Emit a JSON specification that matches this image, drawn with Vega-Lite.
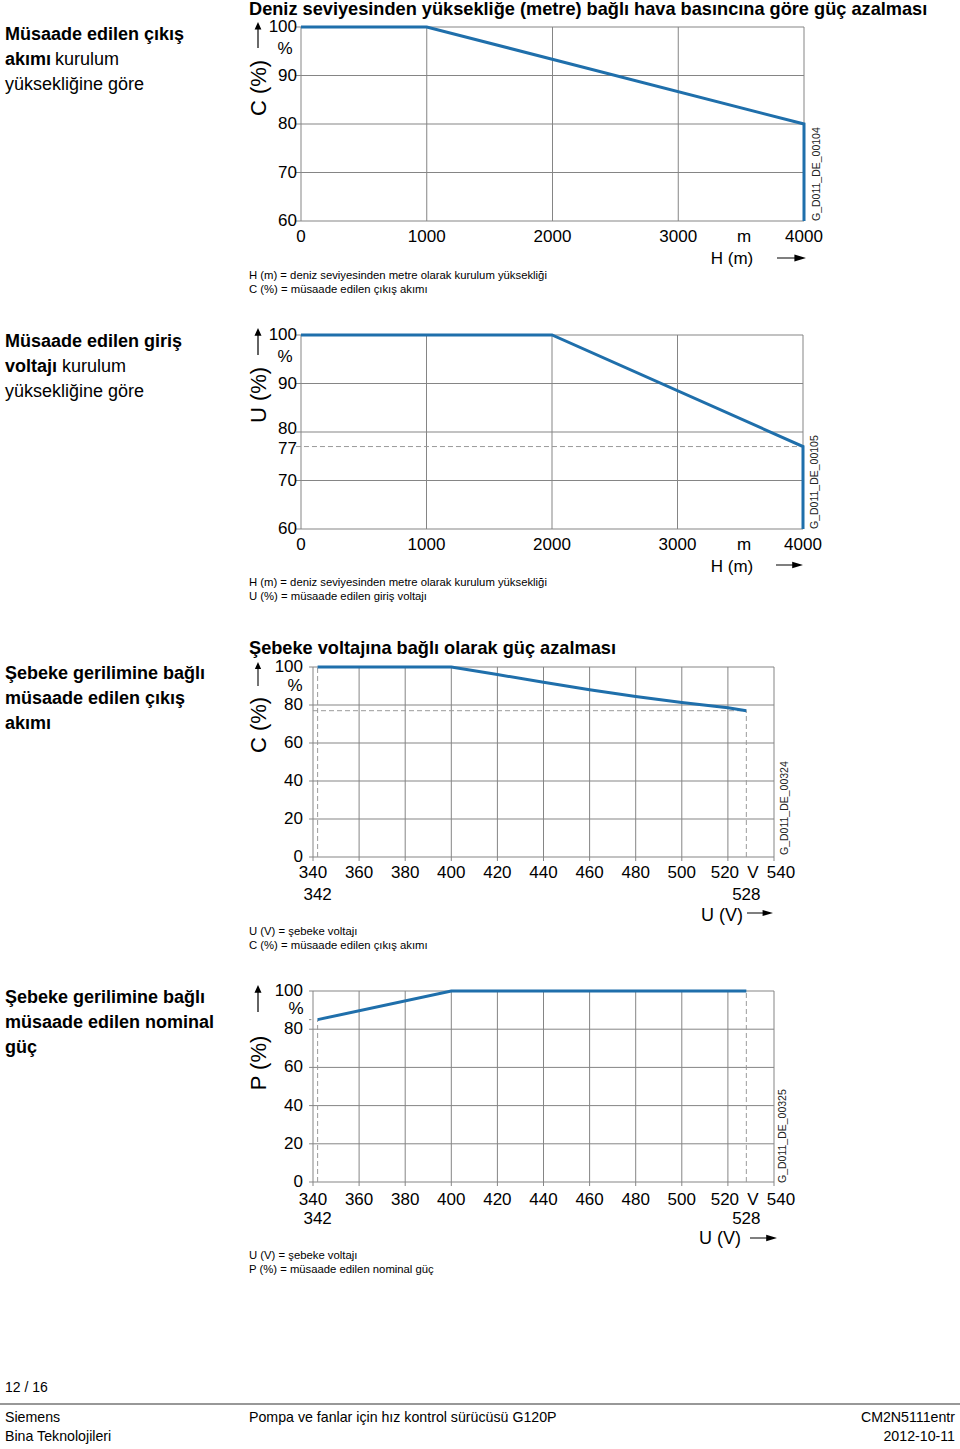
{
 "$schema": "https://vega.github.io/schema/vega-lite/v6.json",
 "width": 960, "height": 1449, "padding": 0, "autosize": {"type": "none"},
 "background": "white",
 "config": {
  "view": {"stroke": null},
  "font": "Liberation Sans",
  "axis": {"disable": true}
 },
 "resolve": {"scale": {"x": "independent", "y": "independent"}},
 "layer": [
  {
   "layer": [
    {"data": {"values": [{"h": 0}, {"h": 1000}, {"h": 2000}, {"h": 3000}, {"h": 4000}]},
     "mark": {"type": "rule", "color": "#858585", "strokeWidth": 1},
     "encoding": {
      "x": {"field": "h", "type": "quantitative", "scale": {"domain": [0, 4000], "range": [301, 804], "nice": false, "zero": false}, "axis": null},
      "y": {"datum": 60, "type": "quantitative", "scale": {"domain": [60, 100], "range": [221, 27], "nice": false, "zero": false}, "axis": null},
      "y2": {"datum": 100}
     }},
    {"data": {"values": [{"c": 60}, {"c": 70}, {"c": 80}, {"c": 90}, {"c": 100}]},
     "mark": {"type": "rule", "color": "#858585", "strokeWidth": 1},
     "encoding": {"y": {"field": "c", "type": "quantitative", "axis": null}, "x": {"datum": -40, "type": "quantitative", "axis": null}, "x2": {"datum": 4000}}},
    {"data": {"values": [{"i": 1, "h": 0, "c": 100}, {"i": 2, "h": 1000, "c": 100}, {"i": 3, "h": 4000, "c": 80}, {"i": 4, "h": 4000, "c": 60}]},
     "mark": {"type": "line", "color": "#1f6fab", "strokeWidth": 3},
     "encoding": {"x": {"field": "h", "type": "quantitative", "axis": null}, "y": {"field": "c", "type": "quantitative", "axis": null}, "order": {"field": "i"}}},
    {"data": {"values": [{"h": 0}, {"h": 1000}, {"h": 2000}, {"h": 3000}, {"h": 4000}]},
     "mark": {"type": "text", "fontSize": 17, "align": "center", "baseline": "middle", "dy": 16, "color": "#000"},
     "encoding": {"x": {"field": "h", "type": "quantitative", "axis": null}, "y": {"datum": 60, "type": "quantitative", "axis": null}, "text": {"field": "h", "type": "quantitative", "format": "d"}}},
    {"data": {"values": [{"c": 60}, {"c": 70}, {"c": 80}, {"c": 90}, {"c": 100}]},
     "mark": {"type": "text", "fontSize": 17, "align": "right", "baseline": "middle", "dx": -4, "color": "#000"},
     "encoding": {"y": {"field": "c", "type": "quantitative", "axis": null}, "x": {"datum": 0, "type": "quantitative", "axis": null}, "text": {"field": "c", "type": "quantitative", "format": "d"}}}
   ]
  },
  {
   "layer": [
    {"data": {"values": [{"h": 0}, {"h": 1000}, {"h": 2000}, {"h": 3000}, {"h": 4000}]},
     "mark": {"type": "rule", "color": "#858585", "strokeWidth": 1},
     "encoding": {
      "x": {"field": "h", "type": "quantitative", "scale": {"domain": [0, 4000], "range": [301, 803], "nice": false, "zero": false}, "axis": null},
      "y": {"datum": 60, "type": "quantitative", "scale": {"domain": [60, 100], "range": [529, 335], "nice": false, "zero": false}, "axis": null},
      "y2": {"datum": 100}
     }},
    {"data": {"values": [{"c": 60}, {"c": 70}, {"c": 80}, {"c": 90}, {"c": 100}]},
     "mark": {"type": "rule", "color": "#858585", "strokeWidth": 1},
     "encoding": {"y": {"field": "c", "type": "quantitative", "axis": null}, "x": {"datum": -40, "type": "quantitative", "axis": null}, "x2": {"datum": 4000}}},
    {"data": {"values": [{"c": 77}]},
     "mark": {"type": "rule", "color": "#9a9a9a", "strokeWidth": 1, "strokeDash": [5, 3]},
     "encoding": {"y": {"field": "c", "type": "quantitative", "axis": null}, "x": {"datum": -40, "type": "quantitative", "axis": null}, "x2": {"datum": 4000}}},
    {"data": {"values": [{"i": 1, "h": 0, "c": 100}, {"i": 2, "h": 2000, "c": 100}, {"i": 3, "h": 4000, "c": 77}, {"i": 4, "h": 4000, "c": 60}]},
     "mark": {"type": "line", "color": "#1f6fab", "strokeWidth": 3},
     "encoding": {"x": {"field": "h", "type": "quantitative", "axis": null}, "y": {"field": "c", "type": "quantitative", "axis": null}, "order": {"field": "i"}}},
    {"data": {"values": [{"h": 0}, {"h": 1000}, {"h": 2000}, {"h": 3000}, {"h": 4000}]},
     "mark": {"type": "text", "fontSize": 17, "align": "center", "baseline": "middle", "dy": 16, "color": "#000"},
     "encoding": {"x": {"field": "h", "type": "quantitative", "axis": null}, "y": {"datum": 60, "type": "quantitative", "axis": null}, "text": {"field": "h", "type": "quantitative", "format": "d"}}},
    {"data": {"values": [{"c": 60}, {"c": 70}, {"c": 90}, {"c": 100}]},
     "mark": {"type": "text", "fontSize": 17, "align": "right", "baseline": "middle", "dx": -4, "color": "#000"},
     "encoding": {"y": {"field": "c", "type": "quantitative", "axis": null}, "x": {"datum": 0, "type": "quantitative", "axis": null}, "text": {"field": "c", "type": "quantitative", "format": "d"}}},
    {"data": {"values": [{"c": 80}]},
     "mark": {"type": "text", "fontSize": 17, "align": "right", "baseline": "middle", "dx": -4, "dy": -3, "color": "#000"},
     "encoding": {"y": {"field": "c", "type": "quantitative", "axis": null}, "x": {"datum": 0, "type": "quantitative", "axis": null}, "text": {"field": "c", "type": "quantitative", "format": "d"}}},
    {"data": {"values": [{"c": 77}]},
     "mark": {"type": "text", "fontSize": 17, "align": "right", "baseline": "middle", "dx": -4, "dy": 2, "color": "#000"},
     "encoding": {"y": {"field": "c", "type": "quantitative", "axis": null}, "x": {"datum": 0, "type": "quantitative", "axis": null}, "text": {"field": "c", "type": "quantitative", "format": "d"}}}
   ]
  },
  {
   "layer": [
    {"data": {"values": [{"u": 340}, {"u": 360}, {"u": 380}, {"u": 400}, {"u": 420}, {"u": 440}, {"u": 460}, {"u": 480}, {"u": 500}, {"u": 520}, {"u": 540}]},
     "mark": {"type": "rule", "color": "#858585", "strokeWidth": 1},
     "encoding": {
      "x": {"field": "u", "type": "quantitative", "scale": {"domain": [340, 540], "range": [313, 774], "nice": false, "zero": false}, "axis": null},
      "y": {"datum": -2.1, "type": "quantitative", "scale": {"domain": [0, 100], "range": [857, 667], "nice": false, "zero": false}, "axis": null},
      "y2": {"datum": 100}
     }},
    {"data": {"values": [{"c": 0}, {"c": 20}, {"c": 40}, {"c": 60}, {"c": 80}, {"c": 100}]},
     "mark": {"type": "rule", "color": "#858585", "strokeWidth": 1},
     "encoding": {"y": {"field": "c", "type": "quantitative", "axis": null}, "x": {"datum": 338.3, "type": "quantitative", "axis": null}, "x2": {"datum": 540}}},
    {"data": {"values": [{"u": 342, "c0": 0, "c1": 100}, {"u": 528, "c0": 0, "c1": 77}]},
     "mark": {"type": "rule", "color": "#9a9a9a", "strokeWidth": 1, "strokeDash": [5, 3]},
     "encoding": {"x": {"field": "u", "type": "quantitative", "axis": null}, "y": {"field": "c0", "type": "quantitative", "axis": null}, "y2": {"field": "c1"}}},
    {"data": {"values": [{"c": 77, "u0": 340, "u1": 528}]},
     "mark": {"type": "rule", "color": "#9a9a9a", "strokeWidth": 1, "strokeDash": [5, 3]},
     "encoding": {"y": {"field": "c", "type": "quantitative", "axis": null}, "x": {"field": "u0", "type": "quantitative", "axis": null}, "x2": {"field": "u1"}}},
    {"data": {"values": [{"u": 342, "c": 100}, {"u": 400, "c": 100}, {"u": 420, "c": 96}, {"u": 440, "c": 92}, {"u": 460, "c": 88}, {"u": 480, "c": 84.5}, {"u": 500, "c": 81.3}, {"u": 520, "c": 78.5}, {"u": 528, "c": 77}]},
     "mark": {"type": "line", "color": "#1f6fab", "strokeWidth": 3},
     "encoding": {"x": {"field": "u", "type": "quantitative", "axis": null}, "y": {"field": "c", "type": "quantitative", "axis": null}}},
    {"data": {"values": [{"u": 340}, {"u": 360}, {"u": 380}, {"u": 400}, {"u": 420}, {"u": 440}, {"u": 460}, {"u": 480}, {"u": 500}]},
     "mark": {"type": "text", "fontSize": 17, "align": "center", "baseline": "middle", "dy": 16, "color": "#000"},
     "encoding": {"x": {"field": "u", "type": "quantitative", "axis": null}, "y": {"datum": 0, "type": "quantitative", "axis": null}, "text": {"field": "u", "type": "quantitative", "format": "d"}}},
    {"data": {"values": [{"u": 520}]},
     "mark": {"type": "text", "fontSize": 17, "align": "center", "baseline": "middle", "dy": 16, "dx": -3, "color": "#000"},
     "encoding": {"x": {"field": "u", "type": "quantitative", "axis": null}, "y": {"datum": 0, "type": "quantitative", "axis": null}, "text": {"field": "u", "type": "quantitative", "format": "d"}}},
    {"data": {"values": [{"u": 540}]},
     "mark": {"type": "text", "fontSize": 17, "align": "center", "baseline": "middle", "dy": 16, "dx": 7, "color": "#000"},
     "encoding": {"x": {"field": "u", "type": "quantitative", "axis": null}, "y": {"datum": 0, "type": "quantitative", "axis": null}, "text": {"field": "u", "type": "quantitative", "format": "d"}}},
    {"data": {"values": [{"c": 0}, {"c": 20}, {"c": 40}, {"c": 60}, {"c": 80}, {"c": 100}]},
     "mark": {"type": "text", "fontSize": 17, "align": "right", "baseline": "middle", "dx": -10, "color": "#000"},
     "encoding": {"y": {"field": "c", "type": "quantitative", "axis": null}, "x": {"datum": 340, "type": "quantitative", "axis": null}, "text": {"field": "c", "type": "quantitative", "format": "d"}}},
    {"data": {"values": [{"u": 342, "t": "342"}, {"u": 528, "t": "528"}]},
     "mark": {"type": "text", "fontSize": 17, "dy": 38, "baseline": "middle", "align": "center", "color": "#000"},
     "encoding": {"x": {"field": "u", "type": "quantitative", "axis": null}, "y": {"datum": 0, "type": "quantitative", "axis": null}, "text": {"field": "t"}}}
   ]
  },
  {
   "layer": [
    {"data": {"values": [{"u": 340}, {"u": 360}, {"u": 380}, {"u": 400}, {"u": 420}, {"u": 440}, {"u": 460}, {"u": 480}, {"u": 500}, {"u": 520}, {"u": 540}]},
     "mark": {"type": "rule", "color": "#858585", "strokeWidth": 1},
     "encoding": {
      "x": {"field": "u", "type": "quantitative", "scale": {"domain": [340, 540], "range": [313, 774], "nice": false, "zero": false}, "axis": null},
      "y": {"datum": -2.1, "type": "quantitative", "scale": {"domain": [0, 100], "range": [1182, 991], "nice": false, "zero": false}, "axis": null},
      "y2": {"datum": 100}
     }},
    {"data": {"values": [{"c": 0}, {"c": 20}, {"c": 40}, {"c": 60}, {"c": 80}, {"c": 100}]},
     "mark": {"type": "rule", "color": "#858585", "strokeWidth": 1},
     "encoding": {"y": {"field": "c", "type": "quantitative", "axis": null}, "x": {"datum": 338.3, "type": "quantitative", "axis": null}, "x2": {"datum": 540}}},
    {"data": {"values": [{"c": 85}]},
     "mark": {"type": "rule", "color": "#858585", "strokeWidth": 1},
     "encoding": {"y": {"field": "c", "type": "quantitative", "axis": null}, "x": {"datum": 338.3, "type": "quantitative", "axis": null}, "x2": {"datum": 339.3}}},
    {"data": {"values": [{"u": 342, "c0": 0, "c1": 85}, {"u": 528, "c0": 0, "c1": 100}]},
     "mark": {"type": "rule", "color": "#9a9a9a", "strokeWidth": 1, "strokeDash": [5, 3]},
     "encoding": {"x": {"field": "u", "type": "quantitative", "axis": null}, "y": {"field": "c0", "type": "quantitative", "axis": null}, "y2": {"field": "c1"}}},
    {"data": {"values": [{"u": 342, "p": 85}, {"u": 400, "p": 100}, {"u": 528, "p": 100}]},
     "mark": {"type": "line", "color": "#1f6fab", "strokeWidth": 3},
     "encoding": {"x": {"field": "u", "type": "quantitative", "axis": null}, "y": {"field": "p", "type": "quantitative", "axis": null}}},
    {"data": {"values": [{"u": 340}, {"u": 360}, {"u": 380}, {"u": 400}, {"u": 420}, {"u": 440}, {"u": 460}, {"u": 480}, {"u": 500}]},
     "mark": {"type": "text", "fontSize": 17, "align": "center", "baseline": "middle", "dy": 18, "color": "#000"},
     "encoding": {"x": {"field": "u", "type": "quantitative", "axis": null}, "y": {"datum": 0, "type": "quantitative", "axis": null}, "text": {"field": "u", "type": "quantitative", "format": "d"}}},
    {"data": {"values": [{"u": 520}]},
     "mark": {"type": "text", "fontSize": 17, "align": "center", "baseline": "middle", "dy": 18, "dx": -3, "color": "#000"},
     "encoding": {"x": {"field": "u", "type": "quantitative", "axis": null}, "y": {"datum": 0, "type": "quantitative", "axis": null}, "text": {"field": "u", "type": "quantitative", "format": "d"}}},
    {"data": {"values": [{"u": 540}]},
     "mark": {"type": "text", "fontSize": 17, "align": "center", "baseline": "middle", "dy": 18, "dx": 7, "color": "#000"},
     "encoding": {"x": {"field": "u", "type": "quantitative", "axis": null}, "y": {"datum": 0, "type": "quantitative", "axis": null}, "text": {"field": "u", "type": "quantitative", "format": "d"}}},
    {"data": {"values": [{"c": 0}, {"c": 20}, {"c": 40}, {"c": 60}, {"c": 80}, {"c": 100}]},
     "mark": {"type": "text", "fontSize": 17, "align": "right", "baseline": "middle", "dx": -10, "color": "#000"},
     "encoding": {"y": {"field": "c", "type": "quantitative", "axis": null}, "x": {"datum": 340, "type": "quantitative", "axis": null}, "text": {"field": "c", "type": "quantitative", "format": "d"}}},
    {"data": {"values": [{"u": 342, "t": "342"}, {"u": 528, "t": "528"}]},
     "mark": {"type": "text", "fontSize": 17, "dy": 37, "baseline": "middle", "align": "center", "color": "#000"},
     "encoding": {"x": {"field": "u", "type": "quantitative", "axis": null}, "y": {"datum": 0, "type": "quantitative", "axis": null}, "text": {"field": "t"}}}
   ]
  },

  {"data": {"values": [{"t": "Müsaade edilen çıkış"}]}, "mark": {"type": "text", "align": "left", "baseline": "middle", "fontSize": 18, "fontWeight": "bold", "color": "#000"}, "encoding": {"text": {"field": "t"}, "x": {"value": 5}, "y": {"value": 35}}},
  {"data": {"values": [{"t": "akımı"}]}, "mark": {"type": "text", "align": "left", "baseline": "middle", "fontSize": 18, "fontWeight": "bold", "color": "#000"}, "encoding": {"text": {"field": "t"}, "x": {"value": 5}, "y": {"value": 60}}},
  {"data": {"values": [{"t": "kurulum"}]}, "mark": {"type": "text", "align": "left", "baseline": "middle", "fontSize": 18, "color": "#000"}, "encoding": {"text": {"field": "t"}, "x": {"value": 55}, "y": {"value": 60}}},
  {"data": {"values": [{"t": "yüksekliğine göre"}]}, "mark": {"type": "text", "align": "left", "baseline": "middle", "fontSize": 18, "color": "#000"}, "encoding": {"text": {"field": "t"}, "x": {"value": 5}, "y": {"value": 85}}},

  {"data": {"values": [{"t": "Müsaade edilen giriş"}]}, "mark": {"type": "text", "align": "left", "baseline": "middle", "fontSize": 18, "fontWeight": "bold", "color": "#000"}, "encoding": {"text": {"field": "t"}, "x": {"value": 5}, "y": {"value": 342}}},
  {"data": {"values": [{"t": "voltajı"}]}, "mark": {"type": "text", "align": "left", "baseline": "middle", "fontSize": 18, "fontWeight": "bold", "color": "#000"}, "encoding": {"text": {"field": "t"}, "x": {"value": 5}, "y": {"value": 367}}},
  {"data": {"values": [{"t": "kurulum"}]}, "mark": {"type": "text", "align": "left", "baseline": "middle", "fontSize": 18, "color": "#000"}, "encoding": {"text": {"field": "t"}, "x": {"value": 62}, "y": {"value": 367}}},
  {"data": {"values": [{"t": "yüksekliğine göre"}]}, "mark": {"type": "text", "align": "left", "baseline": "middle", "fontSize": 18, "color": "#000"}, "encoding": {"text": {"field": "t"}, "x": {"value": 5}, "y": {"value": 392}}},

  {"data": {"values": [{"t": "Şebeke gerilimine bağlı"}]}, "mark": {"type": "text", "align": "left", "baseline": "middle", "fontSize": 18, "fontWeight": "bold", "color": "#000"}, "encoding": {"text": {"field": "t"}, "x": {"value": 5}, "y": {"value": 674}}},
  {"data": {"values": [{"t": "müsaade edilen çıkış"}]}, "mark": {"type": "text", "align": "left", "baseline": "middle", "fontSize": 18, "fontWeight": "bold", "color": "#000"}, "encoding": {"text": {"field": "t"}, "x": {"value": 5}, "y": {"value": 699}}},
  {"data": {"values": [{"t": "akımı"}]}, "mark": {"type": "text", "align": "left", "baseline": "middle", "fontSize": 18, "fontWeight": "bold", "color": "#000"}, "encoding": {"text": {"field": "t"}, "x": {"value": 5}, "y": {"value": 724}}},

  {"data": {"values": [{"t": "Şebeke gerilimine bağlı"}]}, "mark": {"type": "text", "align": "left", "baseline": "middle", "fontSize": 18, "fontWeight": "bold", "color": "#000"}, "encoding": {"text": {"field": "t"}, "x": {"value": 5}, "y": {"value": 998}}},
  {"data": {"values": [{"t": "müsaade edilen nominal"}]}, "mark": {"type": "text", "align": "left", "baseline": "middle", "fontSize": 18, "fontWeight": "bold", "color": "#000"}, "encoding": {"text": {"field": "t"}, "x": {"value": 5}, "y": {"value": 1023}}},
  {"data": {"values": [{"t": "güç"}]}, "mark": {"type": "text", "align": "left", "baseline": "middle", "fontSize": 18, "fontWeight": "bold", "color": "#000"}, "encoding": {"text": {"field": "t"}, "x": {"value": 5}, "y": {"value": 1048}}},

  {"data": {"values": [{"t": "Deniz seviyesinden yüksekliğe (metre) bağlı hava basıncına göre güç azalması"}]}, "mark": {"type": "text", "align": "left", "baseline": "middle", "fontSize": 18.2, "fontWeight": "bold", "color": "#000"}, "encoding": {"text": {"field": "t"}, "x": {"value": 249}, "y": {"value": 10}}},
  {"data": {"values": [{"t": "Şebeke voltajına bağlı olarak güç azalması"}]}, "mark": {"type": "text", "align": "left", "baseline": "middle", "fontSize": 18.2, "fontWeight": "bold", "color": "#000"}, "encoding": {"text": {"field": "t"}, "x": {"value": 249}, "y": {"value": 649}}},

  {"data": {"values": [{"t": "C (%)"}]}, "mark": {"type": "text", "align": "center", "baseline": "middle", "fontSize": 22, "angle": 270, "color": "#000"}, "encoding": {"text": {"field": "t"}, "x": {"value": 259}, "y": {"value": 88}}},
  {"data": {"values": [{"t": "U (%)"}]}, "mark": {"type": "text", "align": "center", "baseline": "middle", "fontSize": 22, "angle": 270, "color": "#000"}, "encoding": {"text": {"field": "t"}, "x": {"value": 259}, "y": {"value": 395}}},
  {"data": {"values": [{"t": "C (%)"}]}, "mark": {"type": "text", "align": "center", "baseline": "middle", "fontSize": 22, "angle": 270, "color": "#000"}, "encoding": {"text": {"field": "t"}, "x": {"value": 259}, "y": {"value": 725}}},
  {"data": {"values": [{"t": "P (%)"}]}, "mark": {"type": "text", "align": "center", "baseline": "middle", "fontSize": 22, "angle": 270, "color": "#000"}, "encoding": {"text": {"field": "t"}, "x": {"value": 259}, "y": {"value": 1063}}},

  {"data": {"values": [{"t": "G_D011_DE_00104"}]}, "mark": {"type": "text", "align": "left", "baseline": "middle", "fontSize": 10.5, "angle": 270, "color": "#222"}, "encoding": {"text": {"field": "t"}, "x": {"value": 817}, "y": {"value": 221}}},
  {"data": {"values": [{"t": "G_D011_DE_00105"}]}, "mark": {"type": "text", "align": "left", "baseline": "middle", "fontSize": 10.5, "angle": 270, "color": "#222"}, "encoding": {"text": {"field": "t"}, "x": {"value": 815}, "y": {"value": 529}}},
  {"data": {"values": [{"t": "G_D011_DE_00324"}]}, "mark": {"type": "text", "align": "left", "baseline": "middle", "fontSize": 10.5, "angle": 270, "color": "#222"}, "encoding": {"text": {"field": "t"}, "x": {"value": 785}, "y": {"value": 855}}},
  {"data": {"values": [{"t": "G_D011_DE_00325"}]}, "mark": {"type": "text", "align": "left", "baseline": "middle", "fontSize": 10.5, "angle": 270, "color": "#222"}, "encoding": {"text": {"field": "t"}, "x": {"value": 783}, "y": {"value": 1183}}},

  {"data": {"values": [{"t": "%"}]}, "mark": {"type": "text", "align": "center", "baseline": "middle", "fontSize": 17, "color": "#000"}, "encoding": {"text": {"field": "t"}, "x": {"value": 285}, "y": {"value": 49}}},
  {"data": {"values": [{"t": "%"}]}, "mark": {"type": "text", "align": "center", "baseline": "middle", "fontSize": 17, "color": "#000"}, "encoding": {"text": {"field": "t"}, "x": {"value": 285}, "y": {"value": 357}}},
  {"data": {"values": [{"t": "%"}]}, "mark": {"type": "text", "align": "center", "baseline": "middle", "fontSize": 17, "color": "#000"}, "encoding": {"text": {"field": "t"}, "x": {"value": 295}, "y": {"value": 686}}},
  {"data": {"values": [{"t": "%"}]}, "mark": {"type": "text", "align": "center", "baseline": "middle", "fontSize": 17, "color": "#000"}, "encoding": {"text": {"field": "t"}, "x": {"value": 296}, "y": {"value": 1009}}},

  {"data": {"values": [{"t": "m"}]}, "mark": {"type": "text", "align": "center", "baseline": "middle", "fontSize": 17, "color": "#000"}, "encoding": {"text": {"field": "t"}, "x": {"value": 744}, "y": {"value": 237}}},
  {"data": {"values": [{"t": "H (m)"}]}, "mark": {"type": "text", "align": "center", "baseline": "middle", "fontSize": 17, "color": "#000"}, "encoding": {"text": {"field": "t"}, "x": {"value": 732}, "y": {"value": 259}}},
  {"data": {"values": [{"t": "m"}]}, "mark": {"type": "text", "align": "center", "baseline": "middle", "fontSize": 17, "color": "#000"}, "encoding": {"text": {"field": "t"}, "x": {"value": 744}, "y": {"value": 545}}},
  {"data": {"values": [{"t": "H (m)"}]}, "mark": {"type": "text", "align": "center", "baseline": "middle", "fontSize": 17, "color": "#000"}, "encoding": {"text": {"field": "t"}, "x": {"value": 732}, "y": {"value": 567}}},
  {"data": {"values": [{"t": "V"}]}, "mark": {"type": "text", "align": "center", "baseline": "middle", "fontSize": 17, "color": "#000"}, "encoding": {"text": {"field": "t"}, "x": {"value": 753}, "y": {"value": 873}}},
  {"data": {"values": [{"t": "U (V)"}]}, "mark": {"type": "text", "align": "center", "baseline": "middle", "fontSize": 18, "color": "#000"}, "encoding": {"text": {"field": "t"}, "x": {"value": 722}, "y": {"value": 916}}},
  {"data": {"values": [{"t": "V"}]}, "mark": {"type": "text", "align": "center", "baseline": "middle", "fontSize": 17, "color": "#000"}, "encoding": {"text": {"field": "t"}, "x": {"value": 753}, "y": {"value": 1200}}},
  {"data": {"values": [{"t": "U (V)"}]}, "mark": {"type": "text", "align": "center", "baseline": "middle", "fontSize": 18, "color": "#000"}, "encoding": {"text": {"field": "t"}, "x": {"value": 720}, "y": {"value": 1239}}},

  {"data": {"values": [{"t": "H (m) = deniz seviyesinden metre olarak kurulum yüksekliği"}]}, "mark": {"type": "text", "align": "left", "baseline": "middle", "fontSize": 11.3, "color": "#000"}, "encoding": {"text": {"field": "t"}, "x": {"value": 249}, "y": {"value": 276}}},
  {"data": {"values": [{"t": "C (%) = müsaade edilen çıkış akımı"}]}, "mark": {"type": "text", "align": "left", "baseline": "middle", "fontSize": 11.3, "color": "#000"}, "encoding": {"text": {"field": "t"}, "x": {"value": 249}, "y": {"value": 290}}},
  {"data": {"values": [{"t": "H (m) = deniz seviyesinden metre olarak kurulum yüksekliği"}]}, "mark": {"type": "text", "align": "left", "baseline": "middle", "fontSize": 11.3, "color": "#000"}, "encoding": {"text": {"field": "t"}, "x": {"value": 249}, "y": {"value": 583}}},
  {"data": {"values": [{"t": "U (%) = müsaade edilen giriş voltajı"}]}, "mark": {"type": "text", "align": "left", "baseline": "middle", "fontSize": 11.3, "color": "#000"}, "encoding": {"text": {"field": "t"}, "x": {"value": 249}, "y": {"value": 597}}},
  {"data": {"values": [{"t": "U (V) = şebeke voltajı"}]}, "mark": {"type": "text", "align": "left", "baseline": "middle", "fontSize": 11.3, "color": "#000"}, "encoding": {"text": {"field": "t"}, "x": {"value": 249}, "y": {"value": 932}}},
  {"data": {"values": [{"t": "C (%) = müsaade edilen çıkış akımı"}]}, "mark": {"type": "text", "align": "left", "baseline": "middle", "fontSize": 11.3, "color": "#000"}, "encoding": {"text": {"field": "t"}, "x": {"value": 249}, "y": {"value": 946}}},
  {"data": {"values": [{"t": "U (V) = şebeke voltajı"}]}, "mark": {"type": "text", "align": "left", "baseline": "middle", "fontSize": 11.3, "color": "#000"}, "encoding": {"text": {"field": "t"}, "x": {"value": 249}, "y": {"value": 1256}}},
  {"data": {"values": [{"t": "P (%) = müsaade edilen nominal güç"}]}, "mark": {"type": "text", "align": "left", "baseline": "middle", "fontSize": 11.3, "color": "#000"}, "encoding": {"text": {"field": "t"}, "x": {"value": 249}, "y": {"value": 1270}}},

  {"data": {"values": [{"a": "up"}]}, "mark": {"type": "point", "shape": "M0,-1L0.26,-0.42L0.045,-0.42L0.045,1L-0.045,1L-0.045,-0.42L-0.26,-0.42Z", "filled": true, "color": "#000", "opacity": 1, "size": 676, "strokeWidth": 0}, "encoding": {"x": {"value": 258}, "y": {"value": 35}}},
  {"data": {"values": [{"a": "up"}]}, "mark": {"type": "point", "shape": "M0,-1L0.26,-0.42L0.045,-0.42L0.045,1L-0.045,1L-0.045,-0.42L-0.26,-0.42Z", "filled": true, "color": "#000", "opacity": 1, "size": 729, "strokeWidth": 0}, "encoding": {"x": {"value": 258}, "y": {"value": 341.5}}},
  {"data": {"values": [{"a": "up"}]}, "mark": {"type": "point", "shape": "M0,-1L0.26,-0.42L0.045,-0.42L0.045,1L-0.045,1L-0.045,-0.42L-0.26,-0.42Z", "filled": true, "color": "#000", "opacity": 1, "size": 576, "strokeWidth": 0}, "encoding": {"x": {"value": 258}, "y": {"value": 674}}},
  {"data": {"values": [{"a": "up"}]}, "mark": {"type": "point", "shape": "M0,-1L0.26,-0.42L0.045,-0.42L0.045,1L-0.045,1L-0.045,-0.42L-0.26,-0.42Z", "filled": true, "color": "#000", "opacity": 1, "size": 729, "strokeWidth": 0}, "encoding": {"x": {"value": 258}, "y": {"value": 998.5}}},
  {"data": {"values": [{"a": "right"}]}, "mark": {"type": "point", "shape": "M1,0L0.2,-0.24L0.2,-0.04L-1,-0.04L-1,0.04L0.2,0.04L0.2,0.24Z", "filled": true, "color": "#000", "opacity": 1, "size": 841, "strokeWidth": 0}, "encoding": {"x": {"value": 791.5}, "y": {"value": 258}}},
  {"data": {"values": [{"a": "right"}]}, "mark": {"type": "point", "shape": "M1,0L0.2,-0.24L0.2,-0.04L-1,-0.04L-1,0.04L0.2,0.04L0.2,0.24Z", "filled": true, "color": "#000", "opacity": 1, "size": 729, "strokeWidth": 0}, "encoding": {"x": {"value": 789.5}, "y": {"value": 565}}},
  {"data": {"values": [{"a": "right"}]}, "mark": {"type": "point", "shape": "M1,0L0.2,-0.24L0.2,-0.04L-1,-0.04L-1,0.04L0.2,0.04L0.2,0.24Z", "filled": true, "color": "#000", "opacity": 1, "size": 676, "strokeWidth": 0}, "encoding": {"x": {"value": 760}, "y": {"value": 913}}},
  {"data": {"values": [{"a": "right"}]}, "mark": {"type": "point", "shape": "M1,0L0.2,-0.24L0.2,-0.04L-1,-0.04L-1,0.04L0.2,0.04L0.2,0.24Z", "filled": true, "color": "#000", "opacity": 1, "size": 729, "strokeWidth": 0}, "encoding": {"x": {"value": 763.5}, "y": {"value": 1238}}},

  {"data": {"values": [{"t": "12 / 16"}]}, "mark": {"type": "text", "align": "left", "baseline": "middle", "fontSize": 14, "color": "#000"}, "encoding": {"text": {"field": "t"}, "x": {"value": 5}, "y": {"value": 1388}}},
  {"data": {"values": [{"a": "line"}]}, "mark": {"type": "rule", "color": "#333", "strokeWidth": 1.2}, "encoding": {"x": {"value": 0}, "x2": {"value": 960}, "y": {"value": 1404}}},
  {"data": {"values": [{"t": "Siemens"}]}, "mark": {"type": "text", "align": "left", "baseline": "middle", "fontSize": 14.2, "color": "#000"}, "encoding": {"text": {"field": "t"}, "x": {"value": 5}, "y": {"value": 1418}}},
  {"data": {"values": [{"t": "Bina Teknolojileri"}]}, "mark": {"type": "text", "align": "left", "baseline": "middle", "fontSize": 14.2, "color": "#000"}, "encoding": {"text": {"field": "t"}, "x": {"value": 5}, "y": {"value": 1437}}},
  {"data": {"values": [{"t": "Pompa ve fanlar için hız kontrol sürücüsü G120P"}]}, "mark": {"type": "text", "align": "left", "baseline": "middle", "fontSize": 14.2, "color": "#000"}, "encoding": {"text": {"field": "t"}, "x": {"value": 249}, "y": {"value": 1418}}},
  {"data": {"values": [{"t": "CM2N5111entr"}]}, "mark": {"type": "text", "align": "right", "baseline": "middle", "fontSize": 14.2, "color": "#000"}, "encoding": {"text": {"field": "t"}, "x": {"value": 955}, "y": {"value": 1418}}},
  {"data": {"values": [{"t": "2012-10-11"}]}, "mark": {"type": "text", "align": "right", "baseline": "middle", "fontSize": 14.2, "color": "#000"}, "encoding": {"text": {"field": "t"}, "x": {"value": 955}, "y": {"value": 1437}}}
 ]
}
